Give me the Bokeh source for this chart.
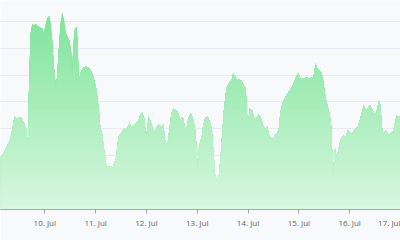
import numpy as np
from bokeh.plotting import figure
from bokeh.models import Range1d, FixedTicker, SingleIntervalTicker
from bokeh.embed import file_html
from bokeh.resources import INLINE

# time in hours since 9 Jul 00:00
hours = [3.0, 4.7, 6.3, 7.5, 8.6, 9.7, 10.7, 11.8, 12.9, 14.1, 15.1, 16.0, 16.6, 17.3, 18.1,
         18.8, 19.6, 20.4, 21.7, 22.8, 23.5, 24.3, 25.1, 26.1, 26.7, 27.5, 28.3, 29.2, 29.8,
         30.6, 31.4, 32.2, 33.0, 33.7, 34.5, 35.6, 36.4, 36.9, 37.4, 38.0, 38.9, 39.5, 40.0,
         40.8, 42.1, 43.6, 45.2, 46.8, 48.3, 49.4, 50.2,
         51.0, 52.1, 53.0, 54.1, 55.2, 56.0, 56.8, 57.7, 58.8, 59.6, 60.4, 61.5, 62.5, 63.1,
         64.0, 65.0, 65.9, 67.1, 68.3, 69.0, 70.0, 70.9, 71.9, 73.0, 73.7, 75.0, 75.9, 76.9,
         77.7, 78.5, 79.2, 80.0, 81.1, 82.1, 83.2, 83.9, 85.0, 86.3, 87.1, 87.9, 88.6, 89.4,
         90.2, 91.0, 91.8, 92.9, 93.8, 94.9, 95.7, 96.2, 96.8, 97.3,
         98.1, 98.8, 99.9, 101.0, 102.0, 102.8, 103.6, 104.3, 105.4, 106.4, 107.5, 108.6,
         109.8, 111.1, 112.2, 113.0, 113.9, 114.8, 115.8, 116.9, 118.0, 118.9, 119.5, 120.0,
         120.8, 121.9, 122.7, 123.9, 125.0, 126.0, 127.1, 128.2, 129.1, 129.9, 131.0, 131.8,
         132.6, 133.7, 134.6, 135.2, 136.2, 137.3, 138.4, 139.6, 140.7, 141.7, 142.8, 143.9,
         144.3, 145.1, 146.2, 147.5, 148.7, 149.8, 150.9, 151.4, 151.9, 152.6, 153.7, 154.7,
         155.3, 156.1, 156.9, 158.1, 159.1, 159.7, 160.2, 160.6, 161.1, 161.9, 162.8, 163.9,
         165.0, 166.0, 167.1, 167.9, 168.8, 169.7, 171.0, 172.1, 173.0, 173.8, 174.6, 175.4,
         176.2, 176.8, 177.6, 178.5, 179.6, 180.7, 181.7, 182.5, 183.2, 184.0, 184.8, 185.6,
         186.4, 187.5, 188.6, 189.5, 190.1, 190.9, 192.0]
values = [19.3, 21.2, 23.8, 25.7, 29.4, 34.6, 33.8, 34.2, 34.2, 32.3, 30.1, 24.5, 46.8, 65.4, 69.1,
          68.4, 69.1, 68.4, 67.7, 67.3, 65.4, 68.4, 71.0, 72.1, 69.5, 62.8, 52.8, 45.4, 49.1,
          59.1, 69.1, 73.6, 71.0, 66.5, 64.7, 62.8, 59.1, 49.8, 59.1, 66.5, 68.0, 62.8, 46.8,
          50.6, 52.8, 53.2, 52.4, 49.8, 45.0, 37.9, 30.5,
          28.3, 21.9, 16.4, 16.0, 16.0, 15.2, 17.1, 19.3, 26.8, 28.3, 28.6, 30.1, 29.7, 30.5,
          32.3, 30.5, 31.2, 32.0, 33.1, 34.9, 36.1, 33.8, 26.8, 34.6, 33.1, 30.1, 28.6, 30.5,
          31.6, 31.2, 30.5, 31.6, 23.8, 24.9, 32.0, 36.1, 37.5, 36.8, 35.7, 33.1, 34.2, 33.8,
          30.1, 30.5, 33.8, 35.7, 34.2, 30.5, 23.0, 13.4, 23.0, 24.9,
          26.8, 31.2, 34.2, 34.6, 32.3, 30.1, 21.9, 13.4, 10.0, 13.4, 24.5, 36.8,
          45.0, 47.2, 48.0, 50.6, 49.4, 48.0, 48.3, 48.0, 46.1, 45.0, 35.7, 32.0,
          37.5, 36.8, 34.2, 33.8, 35.3, 34.2, 31.2, 30.1, 30.9, 27.5, 26.8, 25.7,
          27.5, 28.3, 30.1, 35.7, 39.4, 41.3, 42.8, 44.2, 45.4, 47.2, 49.4, 50.6,
          49.1, 48.3, 48.7, 49.1, 48.7, 49.1, 49.1, 51.7, 54.3, 52.4, 51.7, 50.9,
          48.7, 44.2, 40.5, 36.8, 33.1, 21.9, 10.8, 18.2, 22.7, 19.0, 23.0, 26.4,
          27.5, 26.8, 29.4, 29.0, 28.3, 29.0, 30.1, 31.2, 33.8, 36.1, 38.7, 37.5,
          36.8, 37.9, 38.7, 37.5, 35.7, 36.1, 40.5, 38.7, 30.5, 28.3, 29.4, 28.6,
          27.5, 28.3, 29.4, 32.3, 34.9, 34.6, 34.6]

day_ticks = [24, 48, 72, 96, 120, 144, 168, 192]
day_labels = ["10. Jul", "11. Jul", "12. Jul", "13. Jul", "14. Jul", "15. Jul", "16. Jul", "17. Jul"]

BG = "#f8f9fb"
FONT = "Open Sans"

p = figure(width=400, height=240, output_backend="svg", toolbar_location=None,
           x_range=Range1d(3.08, 192.0), y_range=Range1d(0, 77.7),
           min_border_left=0, min_border_right=0, min_border_top=0, min_border_bottom=31,
           background_fill_color=BG, border_fill_color=BG, outline_line_color=None)

x = np.array(hours)
v = np.array(values)
vmax = v.max()
top = np.array([126, 228, 153])
bot = np.array([216, 247, 224])
N = 48
for k in range(N):
    lvl = vmax * (1 - k / N)
    f = (k + 0.5) / N
    c = tuple(int(round(a)) for a in top * (1 - f) + bot * f)
    p.varea(x=x, y1=0, y2=np.minimum(v, lvl), fill_color="#%02x%02x%02x" % c)

p.yaxis.visible = False
p.ygrid.ticker = SingleIntervalTicker(interval=10)
p.ygrid.grid_line_color = "#e8ebf3"
p.xgrid.visible = False

ax = p.xaxis[0]
ax.ticker = FixedTicker(ticks=day_ticks)
ax.major_label_overrides = {t: l for t, l in zip(day_ticks, day_labels)}
ax.axis_line_color = "#a8a8a8"
ax.major_tick_line_color = "#a0a0a0"
ax.major_tick_out = 4
ax.major_tick_in = 0
ax.minor_tick_out = 0
ax.minor_tick_in = 0
ax.major_label_text_font = FONT
ax.major_label_text_font_size = "8px"
ax.major_label_text_color = "#666666"
ax.major_label_standoff = 3

open("out.html", "w").write(file_html(p, INLINE))
